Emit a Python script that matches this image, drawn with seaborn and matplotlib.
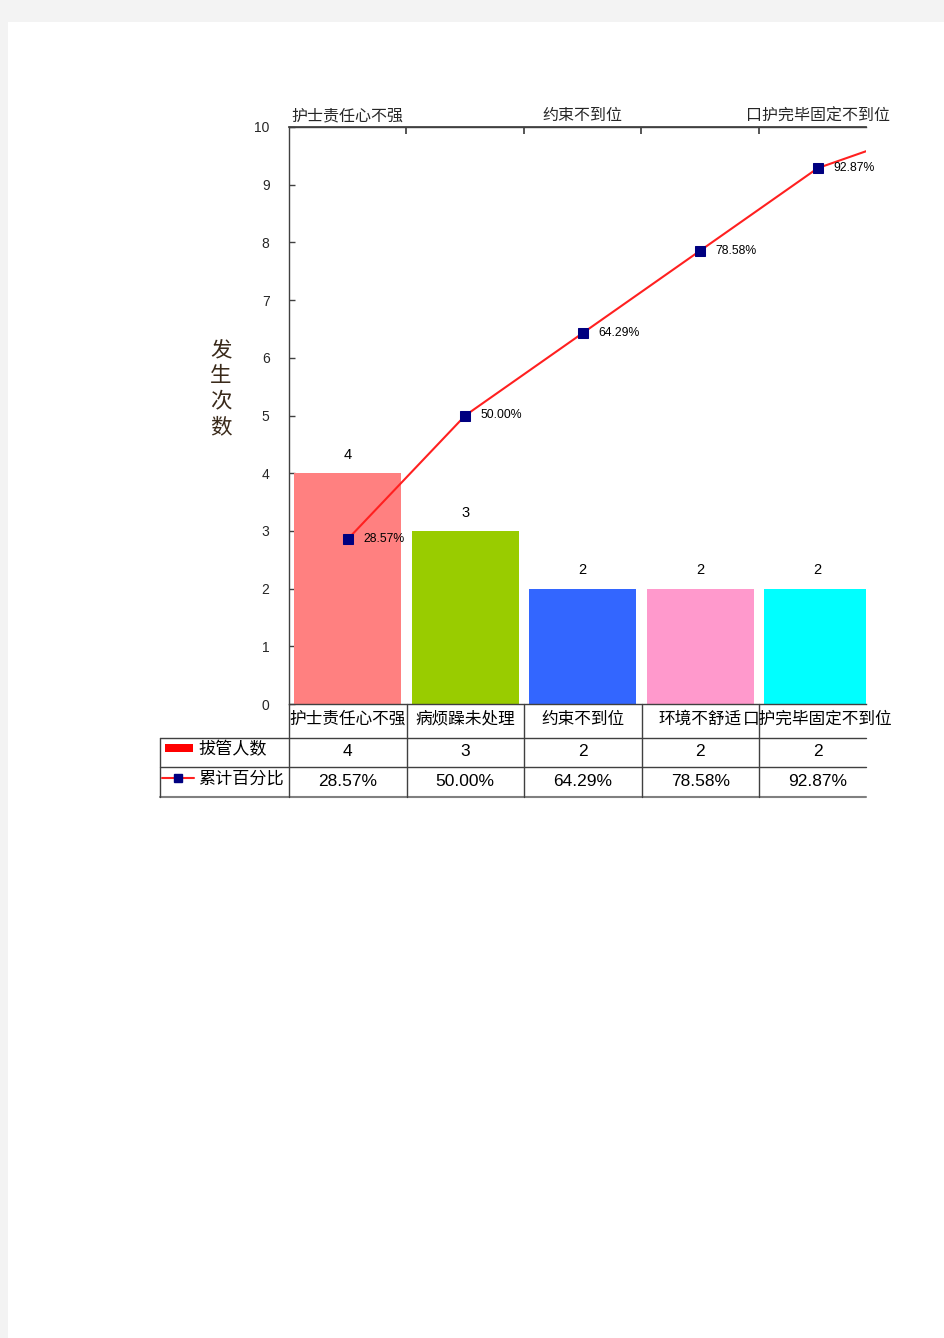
import matplotlib
matplotlib.use("Agg")
import matplotlib.pyplot as plt
import matplotlib.patches as mpatches
import numpy as np
import pandas as pd
import seaborn as sns

# ---------------- data ----------------
categories = ["护士责任心不强", "病烦躁未处理", "约束不到位", "环境不舒适", "口护完毕固定不到位"]
counts = [4, 3, 2, 2, 2]
cum_pct = [28.57, 50.00, 64.29, 78.58, 92.87, 100.00]   # last point lies beyond the visible range
pct_labels = ["28.57%", "50.00%", "64.29%", "78.58%", "92.87%"]
bar_colors = ["#FF8080", "#99CC00", "#3366FF", "#FF99CC", "#00FFFF"]
top_labels = ["护士责任心不强", "约束不到位", "口护完毕固定不到位"]
y_ticks = list(range(0, 11))
series_names = ["拔管人数", "累计百分比"]
ylabel_text = "发生次数"

sns.set_theme(style="white")
plt.rcParams["font.family"] = ["Liberation Sans", "Noto Sans CJK SC", "DejaVu Sans"]
CJK = ["Noto Sans CJK SC", "DejaVu Sans"]

W, H = 945, 1338
fig = plt.figure(figsize=(W / 100, H / 100), dpi=100)
fig.patch.set_facecolor("#F3F3F3")
page = mpatches.Rectangle((8 / W, 0), 1 - 8 / W, 1 - 22 / H,
                          transform=fig.transFigure, facecolor="white",
                          edgecolor="none", zorder=-100)
fig.patches.append(page)

def fx(px):
    return px / W

def fy(py):
    return 1 - py / H

L, R, T, B = 289, 866, 127, 704
CW = 117.5          # category slot width in pixels (axis is cut at the right edge)
ax = fig.add_axes([fx(L), fy(B), fx(R) - fx(L), fy(T) - fy(B)])
ax.set_facecolor("none")

df = pd.DataFrame({"cat": categories, "n": counts})
sns.barplot(data=df, x="cat", y="n", hue="cat", palette=bar_colors, order=categories,
            hue_order=categories, width=0.91, saturation=1, legend=False, ax=ax,
            edgecolor="none")
for cont in ax.containers:
    ax.bar_label(cont, padding=8, fontsize=10.5, color="black")

line_df = pd.DataFrame({"x": np.arange(len(cum_pct)), "y": np.array(cum_pct) / 10})
sns.lineplot(data=line_df, x="x", y="y", color="#FF2020", linewidth=1.5, marker="s",
             markersize=7, markerfacecolor="#000080", markeredgecolor="#000080",
             ax=ax, zorder=5)
for i, lab in enumerate(pct_labels):
    ax.annotate(lab, (i, cum_pct[i] / 10), xytext=(11, 0), textcoords="offset points",
                va="center", ha="left", fontsize=8.8, color="black", zorder=6)

xmax = -0.5 + (R - L) / CW
ax.set_xlim(-0.5, xmax)
ax.set_ylim(0, 10)
ax.set_yticks(y_ticks)
ax.set_yticklabels([str(v) for v in y_ticks], fontsize=10)
ax.set_xticks([])
ax.set_xlabel("")
ax.set_ylabel("")
ax.tick_params(axis="y", direction="in", length=4, width=1, color="#404040", pad=14, left=True)
for s in ["left", "top", "bottom"]:
    ax.spines[s].set_visible(True)
    ax.spines[s].set_color("#404040")
    ax.spines[s].set_linewidth(1)
ax.spines["right"].set_visible(False)

# top axis
tax = ax.twiny()
tax.set_xlim(ax.get_xlim())
tax.set_xticks([i + 0.5 for i in range(len(categories) - 1)])
tax.set_xticklabels([])
tax.tick_params(axis="x", which="major", direction="in", length=5, color="#404040", top=True)
tax.set_xticks([0, 2, 4], minor=True)
tax.set_xticklabels(top_labels, minor=True, fontsize=11.5, family=CJK)
tax.tick_params(axis="x", which="minor", length=0, pad=2, top=True)
for s in tax.spines.values():
    s.set_visible(False)
tax.spines["top"].set_visible(True)
tax.spines["top"].set_color("#404040")

# y label
fig.text(fx(221), fy(389), "\n".join(ylabel_text), ha="center", va="center",
         fontsize=15.5, family=CJK, color="#3a2a1a", linespacing=1.2)

# ---------------- data table ----------------
t = fig.add_axes([0, 0, 1, 1], facecolor="none")
t.set_xlim(0, W)
t.set_ylim(H, 0)
t.axis("off")
bounds = [L + i * CW for i in range(len(categories) + 1)]
lc = "#404040"
for yy in [738, 767]:
    t.plot([160, R], [yy, yy], color=lc, lw=1)
t.plot([160, R], [797, 797], color="#808080", lw=1.5)
t.plot([160, 160], [738, 797], color=lc, lw=1)
for bx in bounds[:-1]:
    t.plot([bx, bx], [704, 797], color=lc, lw=1)

for i, cat in enumerate(categories):
    cx = (bounds[i] + bounds[i + 1]) / 2
    t.text(cx, 719, cat, ha="center", va="center", fontsize=12, family=CJK, color="black")
    t.text(cx, 751, str(counts[i]), ha="center", va="center", fontsize=12.5, color="black")
    t.text(cx, 781, pct_labels[i], ha="center", va="center", fontsize=12.5, color="black")

t.add_patch(mpatches.Rectangle((165, 744), 28, 8, facecolor="#FF0000", edgecolor="none"))
t.plot([162, 194], [778, 778], color="#FF2020", lw=1.5)
t.plot([178], [778], marker="s", markersize=6, color="#000080")
t.text(198, 749, series_names[0], ha="left", va="center", fontsize=12.3, family=CJK, color="black")
t.text(198, 779, series_names[1], ha="left", va="center", fontsize=12.3, family=CJK, color="black")

fig.savefig("out.png", dpi=100, facecolor=fig.get_facecolor())
